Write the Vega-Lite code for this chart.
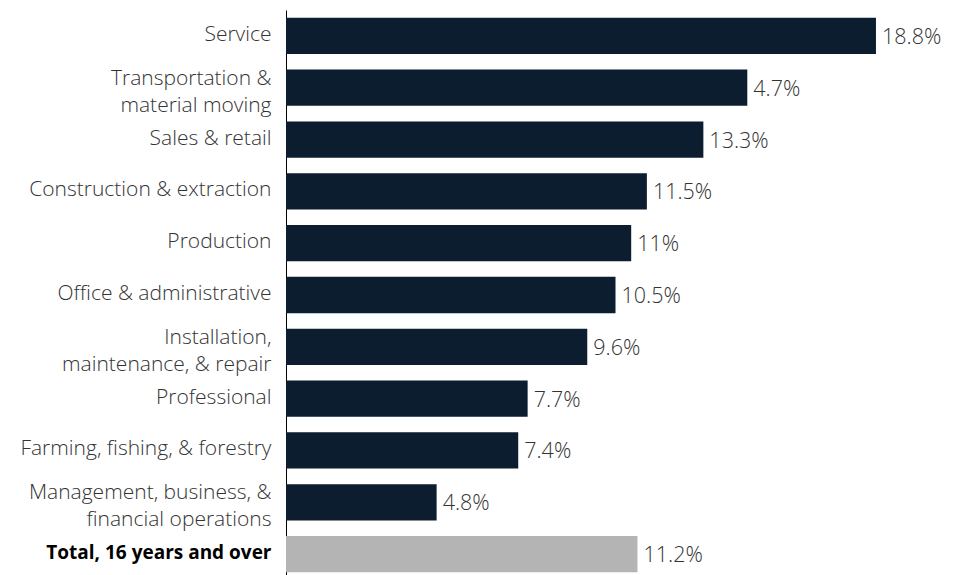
{
  "$schema": "https://vega.github.io/schema/vega-lite/v6.json",
  "width": 659,
  "height": 570,
  "autosize": {"type": "none"},
  "padding": {"left": 286, "top": 10, "right": 14, "bottom": 0},
  "background": "white",
  "config": {"view": {"stroke": null}, "font": "Open Sans"},
  "data": {
    "values": [
      {"occupation": "Service", "value": 18.8, "label": "18.8%", "group": "occ"},
      {"occupation": "Transportation &|material moving", "value": 14.7, "label": "4.7%", "group": "occ"},
      {"occupation": "Sales & retail", "value": 13.3, "label": "13.3%", "group": "occ"},
      {"occupation": "Construction & extraction", "value": 11.5, "label": "11.5%", "group": "occ"},
      {"occupation": "Production", "value": 11.0, "label": "11%", "group": "occ"},
      {"occupation": "Office & administrative", "value": 10.5, "label": "10.5%", "group": "occ"},
      {"occupation": "Installation,|maintenance, & repair", "value": 9.6, "label": "9.6%", "group": "occ"},
      {"occupation": "Professional", "value": 7.7, "label": "7.7%", "group": "occ"},
      {"occupation": "Farming, fishing, & forestry", "value": 7.4, "label": "7.4%", "group": "occ"},
      {"occupation": "Management, business, &|financial operations", "value": 4.8, "label": "4.8%", "group": "occ"},
      {"occupation": "Total, 16 years and over", "value": 11.2, "label": "11.2%", "group": "total"}
    ]
  },
  "encoding": {
    "y": {
      "field": "occupation",
      "type": "nominal",
      "sort": null,
      "scale": {"paddingInner": 0.3, "paddingOuter": 0.15},
      "axis": {
        "title": null,
        "ticks": false,
        "domain": true,
        "domainColor": "#000000",
        "domainWidth": 1,
        "labelPadding": 15,
        "labelFontSize": {"expr": "datum.value == 'Total, 16 years and over' ? 19 : 21"},
        "labelFont": "Open Sans",
        "labelColor": {"expr": "datum.value == 'Total, 16 years and over' ? '#000000' : '#333333'"},
        "labelFontWeight": {"expr": "datum.value == 'Total, 16 years and over' ? 'bold' : 300"},
        "labelOffset": {"expr": "indexof(datum.value, '|') >= 0 ? -9 : -1"},
        "labelLineHeight": 27,
        "labelLimit": 300,
        "labelExpr": "split(datum.label, '|')"
      }
    },
    "x": {
      "field": "value",
      "type": "quantitative",
      "scale": {"domain": [0, 21], "nice": false},
      "axis": null
    }
  },
  "layer": [
    {
      "mark": {"type": "bar"},
      "encoding": {
        "color": {
          "field": "group",
          "type": "nominal",
          "scale": {"domain": ["occ", "total"], "range": ["#0b1d2e", "#b4b4b4"]},
          "legend": null
        }
      }
    },
    {
      "mark": {"type": "text", "align": "left", "baseline": "middle", "dx": 6, "dy": 2, "fontSize": 21.5, "fontWeight": 300, "color": "#333333", "font": "Open Sans"},
      "encoding": {"text": {"field": "label"}}
    }
  ]
}
